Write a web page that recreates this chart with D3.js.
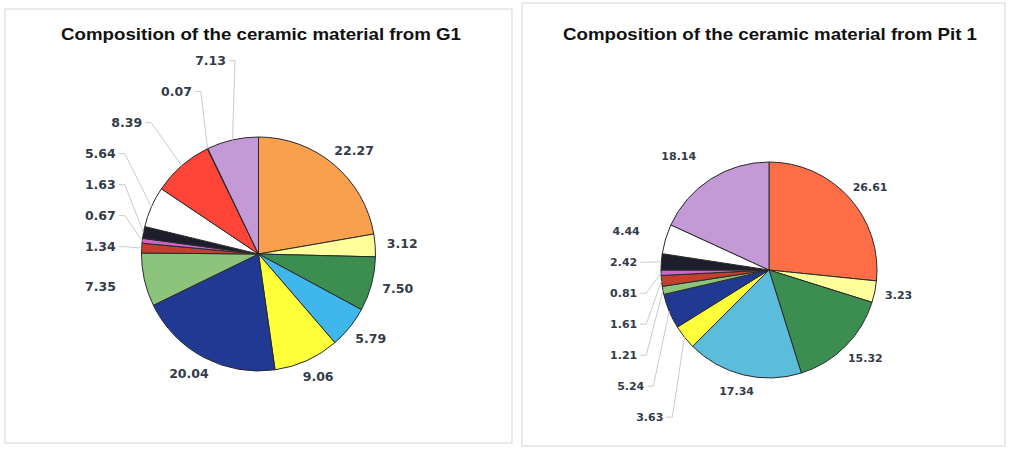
<!DOCTYPE html>
<html>
<head>
<meta charset="utf-8">
<script src="https://cdn.jsdelivr.net/npm/d3@7"></script>
<style>
  html, body { margin: 0; padding: 0; background: #fff; }
  svg { display: block; }
  .title { font-family: "Liberation Sans", Arial, sans-serif; font-weight: bold; fill: #111; }
  .lbl { font-family: "DejaVu Sans", sans-serif; font-weight: bold; fill: #333b48; }
  .leader { fill: none; stroke: #c4c4c4; stroke-width: 0.9; }
  .slice { stroke: #2a2a2a; stroke-width: 1; }
</style>
</head>
<body>
<svg id="chart" width="1010" height="449"></svg>
<script>
// Slice values, clockwise from 12 o'clock
const g1Values  = [22.27, 3.12, 7.50, 5.79, 9.06, 20.04, 7.35, 1.34, 0.67, 1.63, 5.64, 8.39, 0.07, 7.13];
const g1Colors  = ['#f9a04f', '#ffff9c', '#3b8e50', '#3fb6ec', '#ffff3a', '#203a94', '#8cc47c',
                   '#c2412e', '#cc66c8', '#1d1d2c', '#ffffff', '#ff4538', '#999999', '#c49ad6'];
const pitValues = [26.61, 3.23, 15.32, 17.34, 3.63, 5.24, 1.21, 1.61, 0.81, 2.42, 4.44, 18.14];
const pitColors = ['#ff6e47', '#ffff9c', '#3b8e50', '#5cbcdc', '#ffff3a', '#203a94', '#8cc47c',
                   '#c2412e', '#cc66c8', '#1d1d2c', '#ffffff', '#c49ad6'];

const svg = d3.select('#chart');

// panel frames
const panels = [
  { x: 5, y: 9, w: 507, h: 434 },
  { x: 522, y: 3, w: 483, h: 443 }
];
svg.selectAll('rect.panel').data(panels).join('rect')
  .attr('class', 'panel')
  .attr('x', d => d.x).attr('y', d => d.y)
  .attr('width', d => d.w).attr('height', d => d.h)
  .attr('fill', '#fff').attr('stroke', '#dcdcdc').attr('stroke-width', 1.2);

const charts = [
  { title: 'Composition of the ceramic material from G1', values: g1Values, colors: g1Colors,
    tx: 261, ty: 40, tw: 400, cx: 258.5, cy: 254, r: 117, font: 12.5, push: 'up' },
  { title: 'Composition of the ceramic material from Pit 1', values: pitValues, colors: pitColors,
    tx: 770, ty: 40, tw: 414, cx: 769, cy: 270, r: 108, font: 11, push: 'down' }
];

charts.forEach(drawPie);

function drawPie(c) {
  const g = svg.append('g');
  g.append('text').attr('class', 'title')
    .attr('x', c.tx).attr('y', c.ty)
    .attr('text-anchor', 'middle').style('font-size', '16.5px')
    .attr('textLength', c.tw).attr('lengthAdjust', 'spacingAndGlyphs')
    .text(c.title);

  const pie = d3.pie().sort(null).value(d => d);
  const arcs = pie(c.values);
  const arc = d3.arc().innerRadius(0).outerRadius(c.r);

  const pg = g.append('g').attr('transform', `translate(${c.cx},${c.cy})`);
  pg.selectAll('path').data(arcs).join('path')
    .attr('class', 'slice')
    .attr('d', arc)
    .attr('fill', (d, i) => c.colors[i]);

  // label layout
  const gap = 31;
  const rNat = c.r * 1.1, rStack = c.r * 1.25, rCurve = c.r * 1.5, clamp = c.r * 1.22;
  const labels = arcs.map((d, i) => {
    const a = (d.startAngle + d.endAngle) / 2;
    return { a, i, v: c.values[i], text: c.values[i].toFixed(2),
             stack: a >= Math.PI * 1.25 };
  });

  const tg = g.append('g');
  labels.forEach(l => {
    l.node = tg.append('text').attr('class', 'lbl')
      .style('font-size', c.font + 'px').attr('dy', '0.35em').text(l.text);
    l.w = l.node.node().getComputedTextLength();
  });

  // natural placement for free labels
  labels.filter(l => !l.stack).forEach(l => {
    const s = Math.sin(l.a), co = Math.cos(l.a);
    l.x = c.cx + rNat * s + s * l.w / 2;
    l.y = c.cy - rNat * co - co * c.font / 2;
  });

  // stacked labels on the left: push apart vertically
  const st = labels.filter(l => l.stack);
  st.forEach(l => { l.ty = c.cy - rStack * Math.cos(l.a); });
  st.sort((a, b) => a.ty - b.ty);
  if (c.push === 'down') {
    st.forEach((l, k) => { l.y = k ? Math.max(l.ty, st[k - 1].y + gap) : l.ty; });
  } else {
    for (let k = st.length - 1; k >= 0; k--) {
      const l = st[k];
      l.y = k < st.length - 1 ? Math.min(l.ty, st[k + 1].y - gap) : l.ty;
    }
  }
  st.forEach(l => {
    l.pushed = Math.abs(l.y - l.ty) > 2;
    const dy = l.y - c.cy;
    let dx = rStack * Math.abs(Math.sin(l.a));
    if (l.pushed) dx = Math.max(dx, Math.sqrt(Math.max(0, rCurve * rCurve - dy * dy)));
    dx = Math.min(clamp, dx);
    l.xEnd = c.cx - dx;
    l.x = l.xEnd - l.w / 2;
  });

  labels.forEach(l => l.node.attr('x', l.x).attr('y', l.y).attr('text-anchor', 'middle'));

  // leader lines for displaced / tiny slices
  const lineGen = d3.line();
  st.filter(l => l.pushed || l.v < 2).forEach(l => {
    const px = c.cx + c.r * Math.sin(l.a), py = c.cy - c.r * Math.cos(l.a);
    const pts = [[l.xEnd + 3, l.y], [l.xEnd + 9, l.y], [px, py]];
    tg.insert('path', ':first-child').attr('class', 'leader').attr('d', lineGen(pts));
  });
}
</script>
</body>
</html>
